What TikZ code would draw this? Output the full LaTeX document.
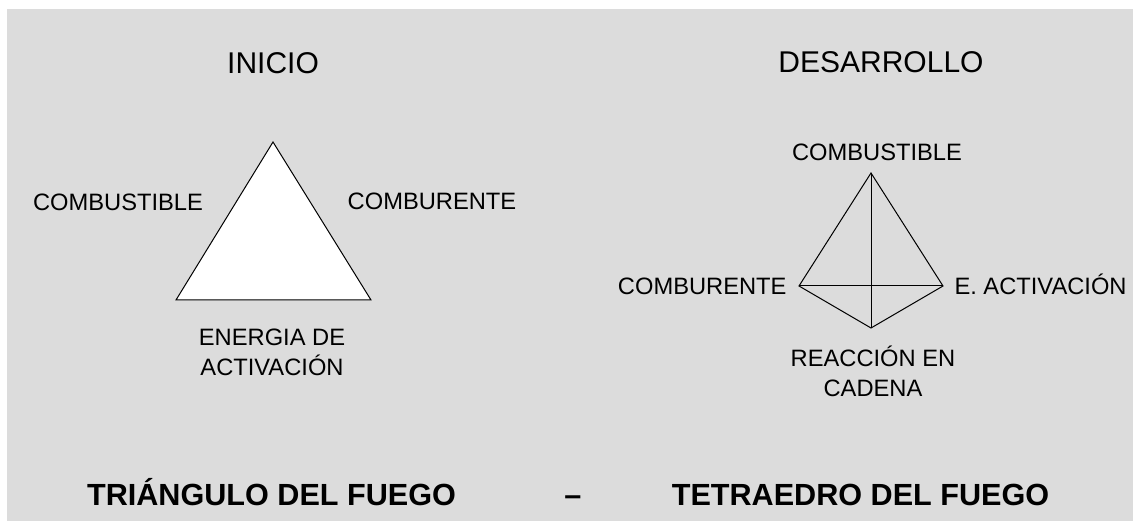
\documentclass[tikz,border=0pt]{standalone}
\usepackage{fontspec}
\setmainfont{Liberation Sans}
\definecolor{bggray}{RGB}{220,220,220}
\tikzstyle{sidetext} = [inner sep=0pt, font=\fontsize{23.7}{30}\selectfont, align=center]
\tikzstyle{heading} = [inner sep=0pt, anchor=base, font=\fontsize{30}{36}\selectfont]
\tikzstyle{footer} = [inner sep=0pt, anchor=base, font=\fontsize{30.6}{36}\selectfont\bfseries]

\begin{document}
\begin{tikzpicture}[x=1pt, y=-1pt, line width=1pt]
		\useasboundingbox (0,0) rectangle (1133,521);
		\fill[bggray] (7,9) rectangle (1133,521);

		% triangle
		\coordinate (triTop)   at (273, 142);
		\coordinate (triLeft)  at (176, 300);
		\coordinate (triRight) at (371, 300);
		\draw[fill=white] (triTop) -- (triLeft) -- (triRight) -- cycle;

		% tetrahedron
		\coordinate (tetTop)    at (871, 173);
		\coordinate (tetLeft)   at (799, 286);
		\coordinate (tetRight)  at (943, 286);
		\coordinate (tetBottom) at (871, 328);
		\draw (tetLeft) -- (tetTop) -- (tetRight) -- (tetBottom) -- cycle;
		\draw (tetTop) -- (tetBottom);
		\draw (tetLeft) -- (tetRight);

		\node[heading] (start) at (273, 74) {INICIO};
		\node[heading] (growth) at (881, 73) {DESARROLLO};

		\node[sidetext, anchor=base] (triFuel) at (118, 211) {COMBUSTIBLE};
		\node[sidetext, anchor=base] (triOxy) at (432, 210) {COMBURENTE};
		\node[sidetext, anchor=north] (triHeat) at (272, 328) {ENERGIA DE\\ACTIVACIÓN};

		\node[sidetext, anchor=base] (tetFuel) at (877, 161) {COMBUSTIBLE};
		\node[sidetext, anchor=base east] (tetOxy) at (787, 295) {COMBURENTE};
		\node[sidetext, anchor=base west] (tetHeat) at (954, 295) {E. ACTIVACIÓN};
		\node[sidetext, anchor=north] (tetChain) at (873, 345) {REACCIÓN EN\\CADENA};

		\node[footer] (triTitle) at (271.5, 505) {TRIÁNGULO DEL FUEGO};
		\node[footer] (dash) at (573, 505) {–};
		\node[footer] (tetTitle) at (860.5, 505) {TETRAEDRO DEL FUEGO};
	\end{tikzpicture}
\end{document}
